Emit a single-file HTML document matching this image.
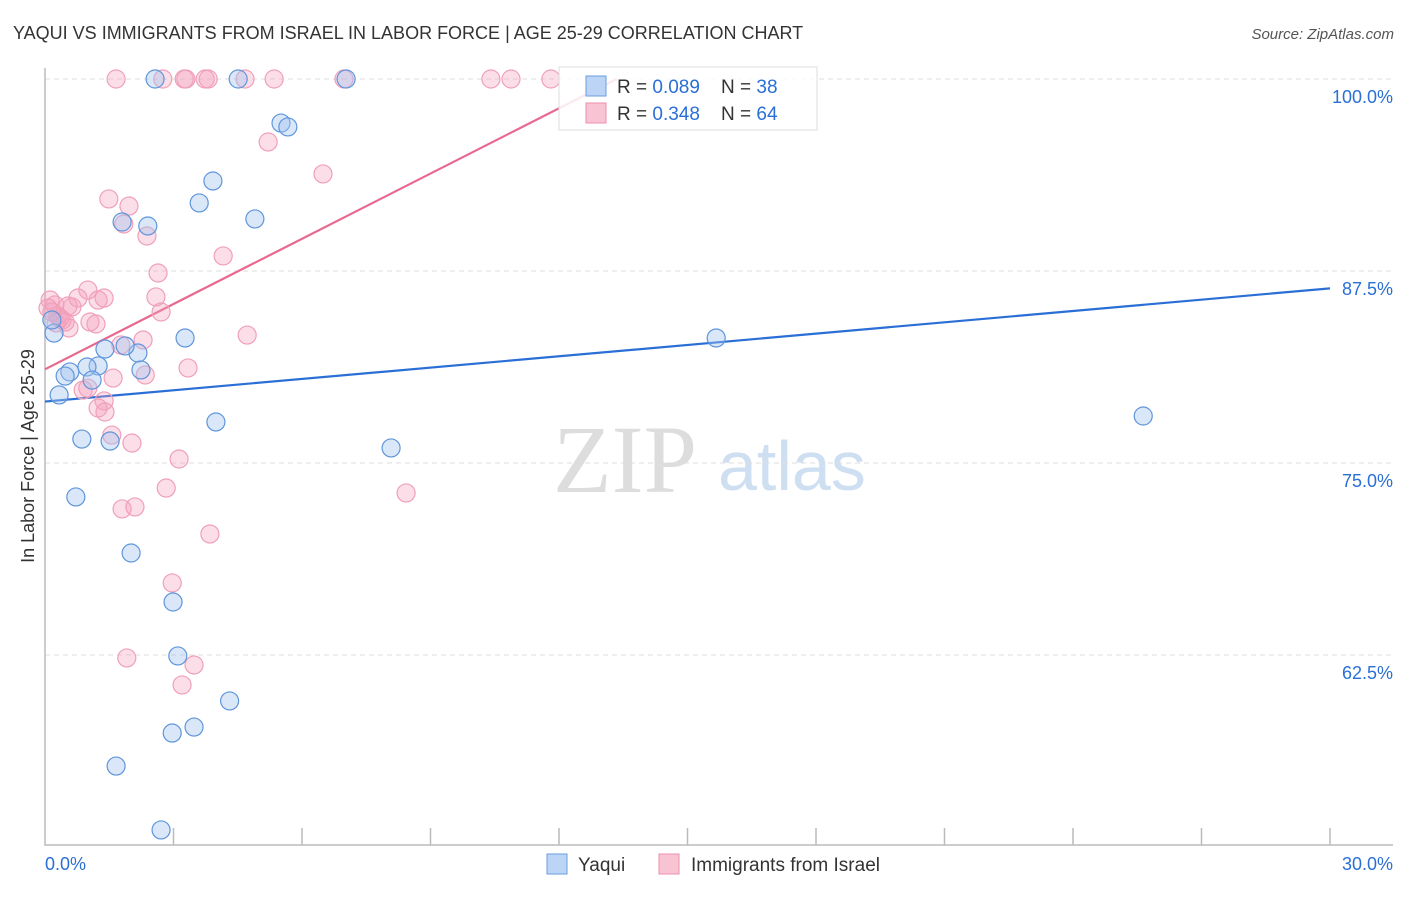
<!DOCTYPE html>
<html><head><meta charset="utf-8"><style>
body{margin:0;background:#fff;font-family:"Liberation Sans",sans-serif;}
</style></head><body>
<svg id="chart" width="1406" height="892" xmlns="http://www.w3.org/2000/svg" font-family="Liberation Sans, sans-serif">
<text x="13" y="39" font-size="18" fill="#333">YAQUI VS IMMIGRANTS FROM ISRAEL IN LABOR FORCE | AGE 25-29 CORRELATION CHART</text>
<text x="1394" y="39" font-size="15" fill="#555" text-anchor="end" font-style="italic">Source: ZipAtlas.com</text>
<text x="553" y="492" font-size="96" fill="#ddd" font-family="Liberation Serif, serif">ZIP</text>
<text x="718" y="490" font-size="70" fill="#cfdff2">atlas</text>
<text transform="translate(34,456) rotate(-90)" font-size="18" fill="#333" text-anchor="middle">In Labor Force | Age 25-29</text>
<g id="grid"></g><g id="axes"></g><g id="trend"></g><g id="points"></g>
<g>
<rect x="559" y="67" width="258" height="63" fill="#fff" fill-opacity="0.85" stroke="#ddd"/>
<rect x="586" y="76" width="20" height="20" fill="#bcd4f5" stroke="#6a9ee0"/>
<rect x="586" y="103" width="20" height="20" fill="#f8c4d4" stroke="#ee8fae"/>
<text x="617" y="93" font-size="19" fill="#333">R = <tspan fill="#2a6fd6">0.089</tspan>&#160;&#160;&#160; N = <tspan fill="#2a6fd6">38</tspan></text>
<text x="617" y="120" font-size="19" fill="#333">R = <tspan fill="#2a6fd6">0.348</tspan>&#160;&#160;&#160; N = <tspan fill="#2a6fd6">64</tspan></text>
</g>
<g>
<rect x="547" y="854" width="20" height="20" fill="#bcd4f5" stroke="#6a9ee0"/>
<text x="578" y="871" font-size="19" fill="#333">Yaqui</text>
<rect x="659" y="854" width="20" height="20" fill="#f8c4d4" stroke="#ee8fae"/>
<text x="691" y="871" font-size="19" fill="#333">Immigrants from Israel</text>
</g>
</svg>
<script>
const blueX=[2.57,4.51,7.03,5.51,5.67,3.92,3.60,4.90,1.80,2.40,0.21,3.27,15.67,1.40,2.17,1.87,1.24,0.98,0.58,0.47,1.10,2.24,0.33,3.99,8.08,25.64,0.86,1.52,0.72,2.01,2.99,3.10,4.31,3.48,2.97,1.66,2.71,0.16];
const blueY=[100,100,100,97.13,96.88,93.36,91.93,90.89,90.69,90.43,83.46,83.14,83.14,82.42,82.16,82.62,81.32,81.25,80.93,80.66,80.40,81.06,79.43,77.67,75.98,78.06,76.56,76.43,72.79,69.14,65.95,62.44,59.51,57.81,57.42,55.27,51.11,84.31];
const pinkX=[1.66,2.75,3.25,3.29,3.74,3.81,4.67,5.35,6.98,10.41,10.88,11.81,5.21,6.49,1.49,1.96,1.84,2.38,4.16,2.64,2.59,2.71,1.24,1.38,1.00,0.77,0.12,0.54,0.63,1.05,1.19,0.56,0.26,0.16,0.30,0.40,0.07,4.72,2.29,1.77,3.34,2.34,1.59,1.00,0.89,1.38,1.24,1.40,1.56,2.03,3.13,2.83,8.43,1.80,2.10,3.85,2.97,1.91,3.48,3.20,0.35,0.47,0.23];
const pinkY=[100,100,100,100,100,100,100,100,100,100,100,100,95.90,93.82,92.19,91.73,90.56,89.78,88.48,87.37,85.81,84.83,85.61,85.74,86.26,85.74,85.61,85.22,85.16,84.18,84.05,83.79,84.12,84.83,84.57,84.31,85.09,83.33,83.01,82.68,81.19,80.73,80.53,79.88,79.75,79.04,78.58,78.32,76.82,76.30,75.26,73.37,73.05,72.01,72.14,70.38,67.19,62.31,61.85,60.55,84.44,84.18,85.29];
const yTicks=[100,87.5,75,62.5];
const yTickLabels=["100.0%","87.5%","75.0%","62.5%"];
const xTicks=[0,3,6,9,12,15,18,21,24,27,30];
const blueTrend=[79.0,86.37];
const pinkTrend=[81.1,1.416];
const X=v=>45+v/30*1285;
const Y=v=>79+(100-v)*192/12.5;
const NS="http://www.w3.org/2000/svg";
function mk(tag,attrs,parent){const e=document.createElementNS(NS,tag);for(const k in attrs)e.setAttribute(k,attrs[k]);document.getElementById(parent).appendChild(e);return e;}
yTicks.forEach((t,i)=>{
 const l=mk('line',{x1:45,x2:1393,y1:Y(t),y2:Y(t),stroke:'#ddd','stroke-dasharray':'5,4'},'grid');
 
 
 const tx=mk('text',{x:1393,y:Y(t)+24,'font-size':18,fill:'#2a6fd6','text-anchor':'end'},'grid');
 tx.textContent=yTickLabels[i];
 
 
});
const ax=mk('path',{d:'M45,68 V845 H1393',stroke:'#bbb',fill:'none','stroke-width':1.5},'axes');


xTicks.slice(1).forEach(t=>{
 const l=mk('line',{x1:X(t),x2:X(t),y1:828,y2:845,stroke:'#bbb','stroke-width':1.5},'axes');
 
 
});
[[0,'0.0%','start',45],[30,'30.0%','end',1393]].forEach(a=>{
 const t=mk('text',{x:a[3],y:870,'font-size':18,fill:'#2a6fd6','text-anchor':a[2]},'axes');t.textContent=a[1];
 
 
});
const bl=mk('line',{x1:X(0),y1:Y(blueTrend[0]),x2:X(30),y2:Y(blueTrend[1]),stroke:'#2a6fd6','stroke-width':2.2},'trend');


const pEnd=(100-pinkTrend[0])/pinkTrend[1];
const pl=mk('line',{x1:X(0),y1:Y(pinkTrend[0]),x2:X(pEnd),y2:Y(100),stroke:'#e8688f','stroke-width':2.2},'trend');


pinkX.forEach((x,i)=>{
 const c=mk('circle',{cx:X(x),cy:Y(pinkY[i]),r:9,fill:'rgba(244,160,188,0.35)',stroke:'#f0a0b8','stroke-width':1.2},'points');
 
 
});
blueX.forEach((x,i)=>{
 const c=mk('circle',{cx:X(x),cy:Y(blueY[i]),r:9,fill:'rgba(160,196,240,0.4)',stroke:'#5f95dc','stroke-width':1.2},'points');
 
 
});
</script>
</body></html>
